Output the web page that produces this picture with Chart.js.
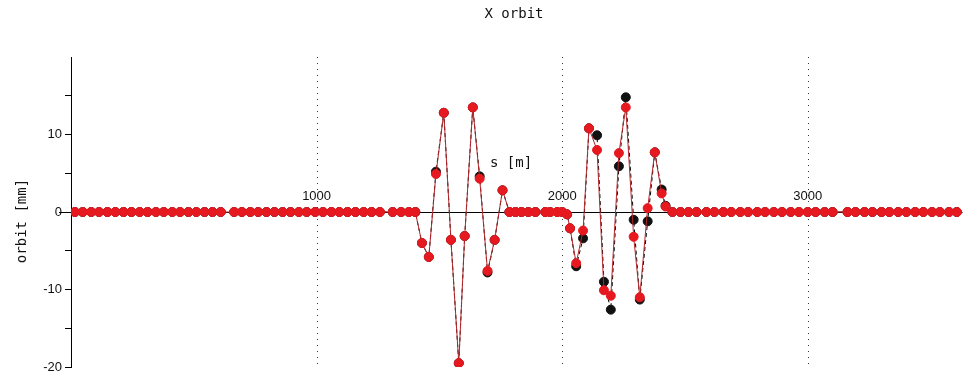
<!DOCTYPE html>
<html>
<head>
<meta charset="utf-8">
<title>X orbit</title>
<script src="https://cdn.jsdelivr.net/npm/chart.js@4/dist/chart.umd.min.js"></script>
<style>
  html, body { margin: 0; padding: 0; background: #fff; }
  #wrap { width: 968px; height: 381px; }
</style>
</head>
<body>
<div id="wrap"><canvas id="orbitChart"></canvas></div>
<script>
// s positions of the monitors [m]
const sPos = [
  16, 48, 82, 114, 148, 180, 214, 246, 280, 312, 346, 378, 412, 444, 478, 510, 544, 576, 610,
  664, 696, 730, 762, 796, 828, 862, 894, 928, 960, 994, 1026, 1060, 1092, 1126, 1158, 1192, 1224, 1258,
  1310, 1344, 1376, 1402,
  1429, 1457, 1486, 1518, 1547, 1579, 1603, 1636, 1664, 1696, 1725, 1757,
  1785, 1810, 1834, 1862, 1891, 1931, 1951, 1980, 2000,
  2020, 2032, 2057, 2085, 2109, 2142, 2170, 2198, 2231, 2259, 2291, 2316, 2348, 2377, 2405, 2421,
  2449, 2482, 2514, 2547, 2587, 2619, 2656, 2688, 2725, 2757, 2794, 2826, 2862, 2895, 2931, 2964,
  3000, 3032, 3069, 3101, 3162, 3194, 3231, 3263, 3300, 3332, 3368, 3401, 3437, 3470, 3506, 3538, 3575, 3607
];

// orbit [mm], red series
const orbitRed = [
  0, 0, 0, 0, 0, 0, 0, 0, 0, 0, 0, 0, 0, 0, 0, 0, 0, 0, 0,
  0, 0, 0, 0, 0, 0, 0, 0, 0, 0, 0, 0, 0, 0, 0, 0, 0, 0, 0,
  0, 0, 0, 0,
  -4.0, -5.8, 4.9, 12.8, -3.6, -19.5, -3.1, 13.5, 4.3, -7.6, -3.6, 2.8,
  0, 0, 0, 0, 0, 0, 0, 0, 0,
  -0.3, -2.1, -6.6, -2.4, 10.8, 8.0, -10.1, -10.8, 7.6, 13.5, -3.2, -11.0, 0.5, 7.7, 2.4, 0.7,
  0, 0, 0, 0, 0, 0, 0, 0, 0, 0, 0, 0, 0, 0, 0, 0,
  0, 0, 0, 0, 0, 0, 0, 0, 0, 0, 0, 0, 0, 0, 0, 0, 0, 0
];

// orbit [mm], black series
const orbitBlack = [
  0, 0, 0, 0, 0, 0, 0, 0, 0, 0, 0, 0, 0, 0, 0, 0, 0, 0, 0,
  0, 0, 0, 0, 0, 0, 0, 0, 0, 0, 0, 0, 0, 0, 0, 0, 0, 0, 0,
  0, 0, 0, 0,
  -4.0, -5.8, 5.2, 12.8, -3.6, -19.5, -3.1, 13.5, 4.6, -7.8, -3.6, 2.8,
  0, 0, 0, 0, 0, 0, 0, 0, 0,
  -0.3, -2.1, -7.0, -3.4, 10.8, 9.9, -9.0, -12.6, 5.9, 14.8, -1.0, -11.3, -1.2, 7.7, 2.9, 0.8,
  0, 0, 0, 0, 0, 0, 0, 0, 0, 0, 0, 0, 0, 0, 0, 0,
  0, 0, 0, 0, 0, 0, 0, 0, 0, 0, 0, 0, 0, 0, 0, 0, 0, 0
];

const xTicks = [1000, 2000, 3000];
const yLabels = [-20, -10, 0, 10];

function toPoints(ys) {
  return sPos.map((s, i) => ({ x: s, y: ys[i] }));
}

// dotted grid, axis at y=0, tick labels and titles (gnuplot look)
const orbitDecor = {
  id: 'orbitDecor',
  beforeDatasetsDraw(chart) {
    const { ctx, chartArea, scales } = chart;
    const y0 = Math.round(scales.y.getPixelForValue(0)) + 0.5;
    ctx.save();
    ctx.strokeStyle = '#333';
    ctx.lineWidth = 1;
    ctx.setLineDash([1, 5]);
    xTicks.forEach(v => {
      const px = Math.round(scales.x.getPixelForValue(v)) + 0.5;
      ctx.beginPath();
      ctx.moveTo(px, chartArea.top);
      ctx.lineTo(px, chartArea.bottom);
      ctx.stroke();
    });
    ctx.setLineDash([]);
    ctx.strokeStyle = '#000';
    ctx.beginPath();
    ctx.moveTo(chartArea.left - 12, y0);
    ctx.lineTo(chartArea.right, y0);
    ctx.stroke();
    ctx.restore();
  },
  afterDatasetsDraw(chart) {
    const { ctx, scales } = chart;
    const y0 = scales.y.getPixelForValue(0);
    ctx.save();
    ctx.fillStyle = '#111';
    ctx.textAlign = 'center';
    ctx.textBaseline = 'middle';
    ctx.font = '13px "Liberation Sans", Arial, sans-serif';
    xTicks.forEach(v => {
      ctx.fillText(String(v), scales.x.getPixelForValue(v), y0 - 16);
    });
    ctx.font = '14px "DejaVu Sans Mono", monospace';
    ctx.fillText('s [m]', 511, 163);
    ctx.fillText('X orbit', 514, 14);
    ctx.translate(22, 221);
    ctx.rotate(-Math.PI / 2);
    ctx.fillText('orbit [mm]', 0, 0);
    ctx.restore();
  }
};

document.addEventListener('DOMContentLoaded', function() {
  const ctx = document.getElementById('orbitChart').getContext('2d');
  new Chart(ctx, {
    type: 'scatter',
    data: {
      datasets: [{
        label: 'orbit 1',
        data: toPoints(orbitRed),
        showLine: true,
        borderColor: '#b3262a',
        borderWidth: 1,
        pointBackgroundColor: '#e5191f',
        pointBorderColor: '#e5191f',
        pointRadius: 4.5,
        pointBorderWidth: 1,
        order: 1
      }, {
        label: 'orbit 2',
        data: toPoints(orbitBlack),
        showLine: true,
        borderColor: '#000',
        borderWidth: 1,
        borderDash: [4, 3],
        pointBackgroundColor: '#111',
        pointBorderColor: '#111',
        pointRadius: 4.5,
        pointBorderWidth: 1,
        order: 2
      }]
    },
    options: {
      responsive: true,
      maintainAspectRatio: false,
      animation: false,
      layout: { padding: { top: 57, bottom: 14, left: 0, right: 0 } },
      plugins: {
        legend: { display: false },
        tooltip: { enabled: false },
        title: { display: false }
      },
      scales: {
        x: {
          type: 'linear',
          min: 0,
          max: 3630,
          afterFit: s => { s.height = 0; },
          ticks: { display: false },
          grid: { display: false },
          border: { display: false }
        },
        y: {
          min: -20,
          max: 20,
          afterFit: s => { s.width = 71; },
          ticks: {
            stepSize: 5,
            autoSkip: false,
            color: '#111',
            padding: 3,
            font: { family: '"Liberation Sans", Arial, sans-serif', size: 13 },
            callback: v => yLabels.includes(v) ? String(v) : ''
          },
          grid: {
            drawOnChartArea: false,
            drawTicks: true,
            tickLength: 6,
            tickColor: c => (c.tick && c.tick.value === 20) ? 'rgba(0,0,0,0)' : '#000'
          },
          border: { display: true, color: '#000', width: 1 }
        }
      }
    },
    plugins: [orbitDecor]
  });
});
</script>
</body>
</html>
